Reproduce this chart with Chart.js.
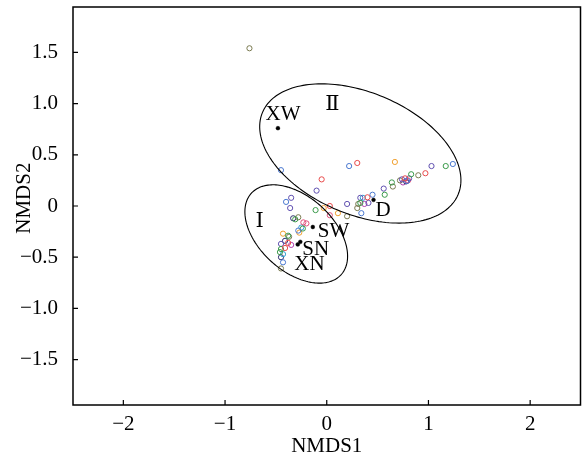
<!DOCTYPE html>
<html>
<head>
<meta charset="utf-8">
<script src="https://cdn.jsdelivr.net/npm/chart.js@4/dist/chart.umd.min.js"></script>
<style>
  html, body { margin: 0; padding: 0; background: #ffffff; }
  #wrap { width: 585px; height: 455px; }
</style>
</head>
<body>
<div id="wrap"><canvas id="c" width="585" height="455"></canvas></div>
<script>
// ---- data ----
const xTickValues = [-2, -1, 0, 1, 2];
const xTickLabels = ['\u22122', '\u22121', '0', '1', '2'];
const yTickValues = [-1.5, -1, -0.5, 0, 0.5, 1, 1.5];
const yTickLabels = ['\u22121.5', '\u22121.0', '\u22120.5', '0', '0.5', '1.0', '1.5'];

const redPts = [[0.30,0.42],[-0.05,0.26],[0.97,0.32],[0.77,0.27],[0.40,0.085],[0.03,0.0],[-0.38,-0.36],[-0.41,-0.41]];
const bluePts = [[-0.45,0.35],[0.22,0.39],[1.24,0.41],[0.79,0.245],[0.45,0.11],[0.34,-0.07],[-0.40,0.04],[-0.28,-0.24],[-0.43,-0.55]];
const greenPts = [[1.17,0.39],[0.83,0.31],[0.64,0.23],[0.57,0.11],[0.33,0.03],[-0.11,-0.04],[-0.31,-0.13],[-0.235,-0.22],[-0.38,-0.29],[-0.45,-0.42],[-0.46,-0.45]];
const purplePts = [[1.03,0.39],[-0.10,0.15],[0.74,0.26],[0.81,0.27],[0.56,0.17],[0.33,0.08],[0.41,0.03],[0.20,0.02],[-0.35,0.08],[-0.36,-0.02],[-0.45,-0.37]];
const orangePts = [[0.67,0.43],[0.11,-0.07],[-0.03,-0.02],[-0.43,-0.27],[-0.27,-0.26]];
const olivePts = [[-0.76,1.54],[0.90,0.30],[0.72,0.25],[0.65,0.19],[0.31,0.02],[0.30,-0.02],[0.20,-0.10],[-0.28,-0.11],[-0.37,-0.30],[-0.45,-0.61]];
const pinkPts = [[0.80,0.25],[0.03,-0.09],[-0.23,-0.16],[-0.20,-0.17]];
const tealPts = [[0.355,0.08],[-0.25,-0.21],[-0.43,-0.47]];
const navyPts = [[0.78,0.24],[-0.33,-0.12],[-0.41,-0.34],[-0.45,-0.50]];
const magentaPts = [[0.75,0.23],[0.37,0.02],[-0.35,-0.38]];

const centroidNames = ['XW', 'SW', 'SN', 'XN', 'D'];
const centroidX = [-0.48, -0.137, -0.26, -0.285, 0.46];
const centroidY = [0.76, -0.205, -0.35, -0.375, 0.06];

const labelTexts = ['XW', '\u2161', '\u2160', 'SW', 'SN', 'XN', 'D'];
const labelX = [-0.43, 0.055, -0.66, 0.066, -0.108, -0.17, 0.553];
const labelY = [0.895, 0.99, -0.155, -0.25, -0.425, -0.575, -0.045];

const ellipseCX = [0.33, -0.30];
const ellipseCY = [0.513, -0.273];
const ellipseA = [1.042, 0.594];
const ellipseB = [0.596, 0.364];
const ellipseAngleDeg = [-22.5, -41.8];

// ---- helpers ----
const toXY = arr => arr.map(p => ({x: p[0], y: p[1]}));
const SERIF = '"Liberation Serif", "Times New Roman", "DejaVu Serif", serif';

function groupSet(pts, color) {
  return {
    data: toXY(pts),
    borderColor: color,
    backgroundColor: 'rgba(0,0,0,0)',
    pointRadius: 2.6,
    pointHoverRadius: 2.6,
    pointBorderWidth: 1,
    showLine: false
  };
}

const datasets = [
  groupSet(redPts, '#e84a4a'),
  groupSet(bluePts, '#4a78d0'),
  groupSet(greenPts, '#3a9a4a'),
  groupSet(purplePts, '#6050b0'),
  groupSet(orangePts, '#f0a030'),
  groupSet(olivePts, '#7a7a50'),
  groupSet(pinkPts, '#e0507a'),
  groupSet(tealPts, '#30a0d0'),
  groupSet(navyPts, '#303070'),
  groupSet(magentaPts, '#b040b0'),
  {
    data: centroidX.map((x, i) => ({x: x, y: centroidY[i]})),
    borderColor: '#000000',
    backgroundColor: '#000000',
    pointRadius: 1.9,
    pointBorderWidth: 0.5,
    showLine: false
  }
];

const framePlugin = {
  id: 'frameAndExtras',
  afterDatasetsDraw(chart) {
    const ctx = chart.ctx;
    const xs = chart.scales.x, ys = chart.scales.y;
    const area = chart.chartArea;
    // ellipses
    ctx.save();
    ctx.strokeStyle = '#000000';
    ctx.lineWidth = 1.1;
    for (let e = 0; e < ellipseCX.length; e++) {
      const phi = ellipseAngleDeg[e] * Math.PI / 180;
      ctx.beginPath();
      for (let k = 0; k <= 360; k += 2) {
        const t = k * Math.PI / 180;
        const dx = ellipseA[e] * Math.cos(t), dy = ellipseB[e] * Math.sin(t);
        const vx = ellipseCX[e] + dx * Math.cos(phi) - dy * Math.sin(phi);
        const vy = ellipseCY[e] + dx * Math.sin(phi) + dy * Math.cos(phi);
        const px = xs.getPixelForValue(vx), py = ys.getPixelForValue(vy);
        if (k === 0) ctx.moveTo(px, py); else ctx.lineTo(px, py);
      }
      ctx.closePath();
      ctx.stroke();
    }
    ctx.restore();
    // labels
    ctx.save();
    ctx.fillStyle = '#000000';
    ctx.font = '21px ' + SERIF;
    ctx.textAlign = 'center';
    ctx.textBaseline = 'middle';
    labelTexts.forEach((t, i) => {
      ctx.fillText(t, xs.getPixelForValue(labelX[i]), ys.getPixelForValue(labelY[i]));
    });
    ctx.restore();
    // frame and inward ticks
    ctx.save();
    ctx.strokeStyle = '#000000';
    ctx.lineWidth = 1.5;
    ctx.strokeRect(area.left, area.top, area.right - area.left, area.bottom - area.top);
    ctx.lineWidth = 1.2;
    ctx.beginPath();
    xTickValues.forEach(v => {
      const p = xs.getPixelForValue(v);
      ctx.moveTo(p, area.bottom);
      ctx.lineTo(p, area.bottom - 5);
    });
    yTickValues.forEach(v => {
      const p = ys.getPixelForValue(v);
      ctx.moveTo(area.left, p);
      ctx.lineTo(area.left + 5, p);
    });
    ctx.stroke();
    ctx.restore();
  }
};

new Chart(document.getElementById('c'), {
  type: 'scatter',
  data: { datasets: datasets },
  options: {
    responsive: false,
    devicePixelRatio: 1,
    animation: false,
    layout: { padding: { top: 7, right: 3, left: 0, bottom: 0 } },
    plugins: { legend: { display: false }, tooltip: { enabled: false } },
    scales: {
      x: {
        type: 'linear',
        min: -2.495, max: 2.495,
        grid: { display: false, drawTicks: false },
        border: { display: false },
        afterFit(scale) { scale.height = 50; scale.paddingLeft = 0; scale.paddingRight = 0; },
        afterBuildTicks(scale) { scale.ticks = xTickValues.map(v => ({value: v})); },
        ticks: {
          padding: 7,
          color: '#000000',
          font: { family: SERIF, size: 21 },
          maxRotation: 0,
          autoSkip: false,
          callback: (v) => { const i = xTickValues.indexOf(v); return i >= 0 ? xTickLabels[i] : ''; }
        },
        title: {
          display: true, text: 'NMDS1', color: '#000000',
          font: { family: SERIF, size: 21, lineHeight: 0.8 },
          padding: { top: 0, bottom: 0 }
        }
      },
      y: {
        type: 'linear',
        min: -1.943, max: 1.943,
        grid: { display: false, drawTicks: false },
        border: { display: false },
        afterFit(scale) { scale.width = 73; scale.paddingTop = 0; scale.paddingBottom = 0; },
        afterBuildTicks(scale) { scale.ticks = yTickValues.map(v => ({value: v})); },
        ticks: {
          padding: 15,
          color: '#000000',
          font: { family: SERIF, size: 21 },
          autoSkip: false,
          callback: (v) => { const i = yTickValues.indexOf(v); return i >= 0 ? yTickLabels[i] : ''; }
        },
        title: {
          display: true, text: '   NMDS2', color: '#000000',
          font: { family: SERIF, size: 21, lineHeight: 1 },
          padding: { top: 14, bottom: 0 }
        }
      }
    }
  },
  plugins: [framePlugin]
});
</script>
</body>
</html>
